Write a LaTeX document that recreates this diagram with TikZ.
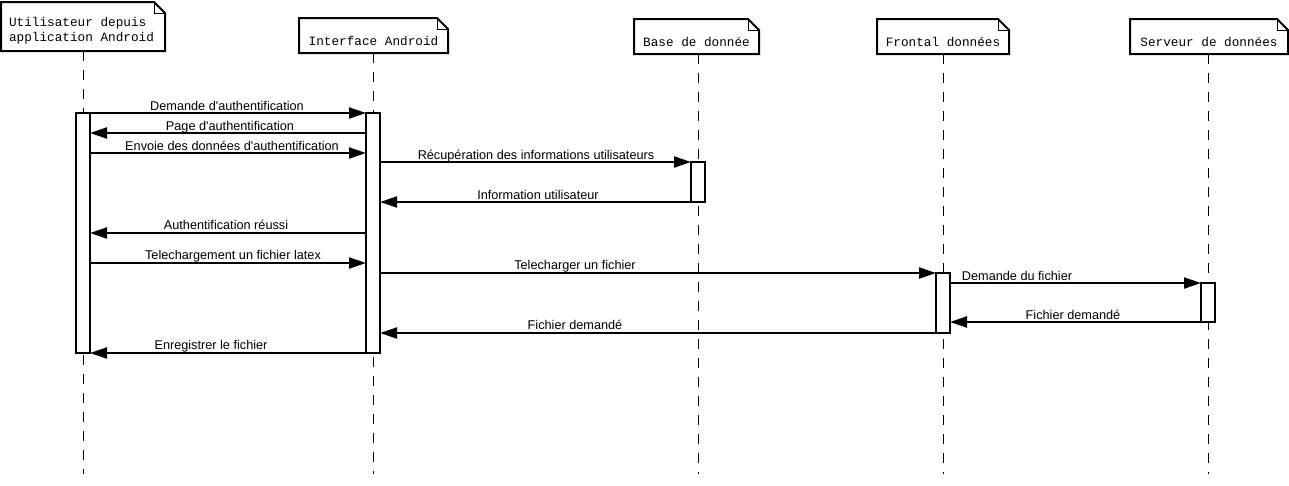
\documentclass[tikz,border=0pt]{standalone}
\usepackage{fontspec}
\setmainfont{Liberation Sans}
\newfontfamily\hdrfont{Liberation Mono}
\usetikzlibrary{arrows.meta,calc}
\newcommand\hdrtxt[2]{\raisebox{#1}[\height][\depth]{#2}}
\newcommand\apos{\textquotesingle}
\begin{document}
\begin{tikzpicture}[x=1pt,y=-1pt,
  hdr/.style={inner sep=0pt, outer sep=0pt, minimum height=35pt, font=\hdrfont\fontsize{12.7}{15.5}\selectfont},
  hline/.style={line width=2pt, line join=miter},
  foldline/.style={line width=1pt},
  life/.style={line width=1pt, dash pattern=on 10pt off 9pt},
  actbar/.style={draw, fill=white, line width=2pt, inner sep=0pt, outer sep=0pt, minimum width=14pt, anchor=north},
  msg/.style={line width=2pt, -{Triangle[length=17pt,width=11pt]}},
  lbl/.style={anchor=base, inner sep=0pt, font=\fontsize{12.7}{15}\selectfont}
]
\useasboundingbox (0,0) rectangle (1289,485);

% headers
\node[hdr, minimum width=164pt, minimum height=49pt] (h1) at (83,26.5)
  {\hdrtxt{-4.5pt}{\hspace*{-3pt}\begin{tabular}{@{}l@{}}Utilisateur depuis\\application Android\end{tabular}}};
\node[hdr, minimum width=149pt] (h2) at (373.5,35.5) {\hdrtxt{-5pt}{Interface Android}};
\node[hdr, minimum width=125pt] (h3) at (696.5,36.5) {\hdrtxt{-5pt}{Base de donnée}};
\node[hdr, minimum width=132pt] (h4) at (943,36.5) {\hdrtxt{-5pt}{Frontal données}};
\node[hdr, minimum width=158pt] (h5) at (1209,36.5) {\hdrtxt{-5pt}{Serveur de données}};

\foreach \n in {h1,h2,h3,h4,h5}{
  \draw[hline] (\n.south west) -- (\n.north west) -- ($(\n.north east)+(-11,0)$)
     -- ($(\n.north east)+(0,11)$) -- (\n.south east) -- cycle;
  \draw[foldline] ($(\n.north east)+(-11,0)$) |- ($(\n.north east)+(0,11)$);
}

% lifelines
\coordinate (e1) at (83,474);
\coordinate (e2) at (373,474);
\coordinate (e3) at (698,474);
\coordinate (e4) at (943,474);
\coordinate (e5) at (1208,474);
\draw[life] (h1.south -| e1) -- (e1);
\draw[life] (h2.south -| e2) -- (e2);
\draw[life] (h3.south -| e3) -- (e3);
\draw[life] (h4.south -| e4) -- (e4);
\draw[life] (h5.south -| e5) -- (e5);

% activation bars
\node[actbar, minimum height=240pt] (ubar) at (83,113) {};
\node[actbar, minimum height=240pt] (ibar) at (373,113) {};
\node[actbar, minimum height=40pt] (dbar) at (698,162) {};
\node[actbar, minimum height=60pt] (fbar) at (943,273) {};
\node[actbar, minimum height=39pt] (sbar) at (1208,283) {};

% messages
\draw[msg] (ubar.north east) -- (ibar.north west);
\draw[msg] (ibar.west |- 0,133) -- (ubar.east |- 0,133);
\draw[msg] (ubar.east |- 0,153) -- (ibar.west |- 0,153);
\draw[msg] (ibar.east |- dbar.north) -- (dbar.north west);
\draw[msg] (dbar.south west) -- (ibar.east |- dbar.south);
\draw[msg] (ibar.west |- 0,233) -- (ubar.east |- 0,233);
\draw[msg] (ubar.east |- 0,263) -- (ibar.west |- 0,263);
\draw[msg] (ibar.east |- fbar.north) -- (fbar.north west);
\draw[msg] (fbar.east |- sbar.north) -- (sbar.north west);
\draw[msg] (sbar.south west) -- (fbar.east |- sbar.south);
\draw[msg] (fbar.south west) -- (ibar.east |- fbar.south);
\draw[msg] (ibar.south west) -- (ubar.south east);

% labels
\node[lbl] (l1) at (227,110) {Demande d\apos authentification};
\node[lbl] (l2) at (230,130) {Page d\apos authentification};
\node[lbl] (l3) at (232,150) {Envoie des données d\apos authentification};
\node[lbl] (l4) at (536,159) {Récupération des informations utilisateurs};
\node[lbl] (l5) at (538,199) {Information utilisateur};
\node[lbl] (l6) at (226,229.5) {Authentification réussi};
\node[lbl] (l7) at (233,259.5) {Telechargement un fichier latex};
\node[lbl] (l8) at (575,269.5) {Telecharger un fichier};
\node[lbl] (l9) at (1017,280) {Demande du fichier};
\node[lbl] (l10) at (1073,319.5) {Fichier demandé};
\node[lbl] (l11) at (575,329.5) {Fichier demandé};
\node[lbl] (l12) at (211,349.5) {Enregistrer le fichier};
\end{tikzpicture}
\end{document}
